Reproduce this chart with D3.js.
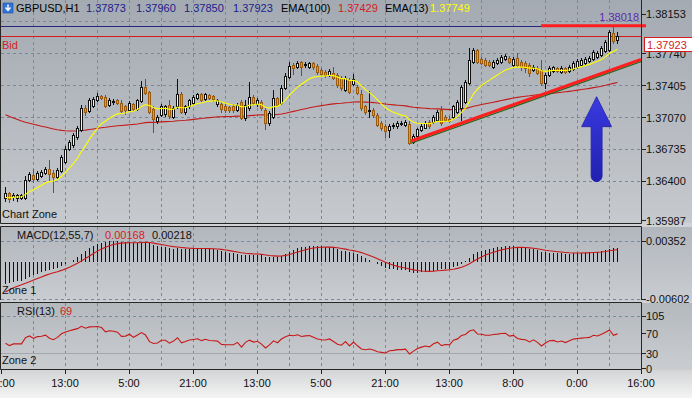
<!DOCTYPE html>
<html><head><meta charset="utf-8">
<script src="https://cdn.jsdelivr.net/npm/d3@7"></script>
<style>
html,body{margin:0;padding:0;background:#d0d2d4;overflow:hidden;}
svg{display:block;}
text{font-family:"Liberation Sans",Arial,sans-serif;font-size:11px;}
</style></head><body>
<svg id="c" width="692" height="398"></svg>
<script>
// ---------------- DATA ----------------
const symbol = "GBPUSD,H1";
const open = [1.3622,1.3627,1.3623,1.3622,1.3622,1.3622,1.3641,1.3646,1.3642,1.3645,1.3648,1.3653,1.3648,1.3644,1.3650,1.3660,1.3674,1.3678,1.3686,1.3693,
1.3716,1.3713,1.3718,1.3725,1.3729,1.3728,1.3720,1.3723,1.3725,1.3722,1.3718,1.3714,1.3721,1.3715,1.3724,1.3738,1.3733,1.3715,1.3703,1.3709,
1.3710,1.3720,1.3707,1.3718,1.3731,1.3712,1.3718,1.3722,1.3727,1.3731,1.3726,1.3730,1.3729,1.3721,1.3721,1.3718,1.3717,1.3718,1.3714,1.3723,
1.3706,1.3716,1.3728,1.3721,1.3723,1.3714,1.3701,1.3707,1.3727,1.3722,1.3737,1.3749,1.3761,1.3759,1.3765,1.3761,1.3759,1.3764,1.3760,1.3756,
1.3754,1.3751,1.3753,1.3751,1.3748,1.3735,1.3746,1.3742,1.3738,1.3731,1.3718,1.3713,1.3714,1.3709,1.3701,1.3698,1.3693,1.3698,1.3698,1.3700,
1.3699,1.3700,1.3681,1.3687,1.3693,1.3696,1.3702,1.3702,1.3704,1.3714,1.3707,1.3705,1.3707,1.3712,1.3716,1.3723,1.3743,1.3765,1.3777,1.3768,
1.3767,1.3765,1.3759,1.3764,1.3765,1.3768,1.3769,1.3761,1.3769,1.3765,1.3764,1.3761,1.3756,1.3758,1.3756,1.3743,1.3751,1.3755,1.3758,1.3754,
1.3758,1.3755,1.3757,1.3759,1.3761,1.3764,1.3766,1.3768,1.3770,1.3772,1.3776,1.3777,1.3795,1.37873];
const high = [1.3634,1.3628,1.3627,1.3626,1.3626,1.3645,1.3649,1.3653,1.3650,1.3651,1.3655,1.3662,1.3651,1.3654,1.3667,1.3677,1.3683,1.3690,1.3698,1.3720,
1.3720,1.3727,1.3728,1.3732,1.3730,1.3730,1.3727,1.3726,1.3726,1.3725,1.3720,1.3724,1.3722,1.3726,1.3745,1.3747,1.3734,1.3718,1.3709,1.3721,
1.3720,1.3725,1.3718,1.3747,1.3733,1.3720,1.3726,1.3730,1.3732,1.3732,1.3732,1.3731,1.3730,1.3726,1.3723,1.3721,1.3718,1.3721,1.3722,1.3725,
1.3725,1.3744,1.3730,1.3727,1.3725,1.3716,1.3713,1.3735,1.3728,1.3740,1.3753,1.3765,1.3764,1.3766,1.3766,1.3765,1.3765,1.3765,1.3762,1.3758,
1.3756,1.3757,1.3759,1.3753,1.3750,1.3750,1.3748,1.3752,1.3740,1.3735,1.3720,1.3734,1.3716,1.3711,1.3703,1.3700,1.3700,1.3701,1.3703,1.3703,
1.3704,1.3703,1.3689,1.3696,1.3700,1.3703,1.3704,1.3709,1.3714,1.3718,1.3709,1.3708,1.3720,1.3725,1.3740,1.3746,1.3779,1.3779,1.3778,1.3770,
1.3769,1.3767,1.3767,1.3769,1.3772,1.3773,1.3771,1.3770,1.3774,1.3767,1.3766,1.3764,1.3761,1.3760,1.3767,1.3753,1.3760,1.3760,1.3759,1.3760,
1.3759,1.3761,1.3766,1.3768,1.3769,1.3770,1.3771,1.3777,1.3776,1.3781,1.3788,1.3798,1.38018,1.37960];
const low = [1.3619,1.3618,1.3620,1.3619,1.3621,1.3621,1.3640,1.3639,1.3641,1.3644,1.3647,1.3641,1.3628,1.3643,1.3649,1.3659,1.3672,1.3676,1.3684,1.3692,
1.3709,1.3712,1.3717,1.3724,1.3726,1.3717,1.3718,1.3721,1.3721,1.3712,1.3710,1.3713,1.3714,1.3714,1.3723,1.3731,1.3711,1.3691,1.3701,1.3708,
1.3708,1.3706,1.3706,1.3716,1.3711,1.3710,1.3716,1.3721,1.3726,1.3724,1.3725,1.3726,1.3724,1.3718,1.3712,1.3712,1.3712,1.3712,1.3713,1.3705,
1.3704,1.3714,1.3721,1.3718,1.3714,1.3694,1.3699,1.3706,1.3718,1.3721,1.3736,1.3748,1.3752,1.3758,1.3751,1.3759,1.3758,1.3757,1.3752,1.3750,
1.3749,1.3750,1.3747,1.3738,1.3735,1.3734,1.3732,1.3740,1.3731,1.3714,1.3710,1.3707,1.3707,1.3698,1.3693,1.3686,1.3686,1.3696,1.3696,1.3699,
1.3698,1.3679,1.3680,1.3685,1.3692,1.3695,1.3695,1.3701,1.3703,1.3699,1.3703,1.3702,1.3706,1.3711,1.3704,1.3722,1.3742,1.3764,1.3764,1.3762,
1.3760,1.3760,1.3758,1.3762,1.3764,1.3767,1.3764,1.3760,1.3760,1.3756,1.3754,1.3750,1.3755,1.3752,1.3740,1.3737,1.3750,1.3754,1.3754,1.3753,
1.3753,1.3754,1.3756,1.3758,1.3760,1.3762,1.3765,1.3767,1.3769,1.3771,1.3775,1.3776,1.3784,1.37850];
const close = [1.3627,1.3621,1.3625,1.3625,1.3625,1.3641,1.3647,1.3642,1.3648,1.3649,1.3653,1.3647,1.3644,1.3651,1.3665,1.3674,1.3681,1.3688,1.3695,1.3716,
1.3712,1.3725,1.3726,1.3729,1.3727,1.3718,1.3725,1.3724,1.3722,1.3713,1.3714,1.3722,1.3715,1.3725,1.3738,1.3732,1.3712,1.3705,1.3707,1.3718,
1.3718,1.3708,1.3716,1.3731,1.3712,1.3718,1.3725,1.3728,1.3731,1.3725,1.3731,1.3727,1.3726,1.3725,1.3715,1.3714,1.3714,1.3714,1.3720,1.3706,
1.3720,1.3728,1.3722,1.3725,1.3716,1.3701,1.3711,1.3727,1.3720,1.3737,1.3750,1.3760,1.3758,1.3764,1.3759,1.3762,1.3764,1.3759,1.3754,1.3752,
1.3751,1.3755,1.3748,1.3740,1.3737,1.3748,1.3733,1.3747,1.3732,1.3716,1.3712,1.3714,1.3709,1.3699,1.3696,1.3692,1.3698,1.3699,1.3701,1.3701,
1.3702,1.3680,1.3687,1.3694,1.3698,1.3701,1.3698,1.3707,1.3712,1.3701,1.3704,1.3703,1.3718,1.3723,1.3738,1.3744,1.3767,1.3777,1.3765,1.3764,
1.3761,1.3761,1.3765,1.3767,1.3770,1.3771,1.3765,1.3768,1.3761,1.3759,1.3758,1.3753,1.3759,1.3753,1.3743,1.3751,1.3758,1.3759,1.3755,1.3758,
1.3754,1.3759,1.3764,1.3766,1.3767,1.3768,1.3769,1.3775,1.3774,1.3779,1.3786,1.3796,1.3787,1.37923];

const priceTicks = [1.38153,1.37740,1.37405,1.37070,1.36735,1.36400,1.35987];
const priceGrid  = [1.38075,1.37740,1.37405,1.37070,1.36735,1.36400];
const timeLabels = ["21:00","13:00","5:00","21:00","13:00","5:00","21:00","13:00","8:00","0:00","16:00"];
const timeLabelBar = [-1,15,31,47,63,79,95,111,127,143,159];
const macdTicks = [0.00352,-0.00602];
const rsiTicks = [105,70,30,0];
const rsiDashed = [105];
const rsiLevel = [30];

// indicator seeds (values before the first visible bar)
const ema100Seed = 1.3711, ema13Seed = 1.3622;
const macdFastSeed = 1.3624, macdSlowSeed = 1.3661, macdSignalSeed = -0.0054;
const rsiPrevClose = 1.3622, rsiGainSeed = 0.00022, rsiLossSeed = 0.00026;

// header values
const hdrOHLC = ["1.37873","1.37960","1.37850","1.37923"];
const hdrEma100 = "1.37429", hdrEma13 = "1.37749";
const macdHdr = ["0.00168","0.00218"];
const rsiHdr = "69";
const bidPrice = 1.37923, highPrice = 1.38018;

// drawn objects (bar index / price)
const trendLine = {i0:101.5, p0:1.36819, i1:159, p1:1.37673};
const resistLine = {i0:134, p0:1.38026, i1:160, p1:1.38026};
const arrowObj = {i:147.9, tip:1.37283, base:1.36393};

// ---------------- INDICATORS ----------------
function ema(vals, period, seed){ const k = 2/(period+1); let e = seed; return vals.map(v => (e = e + k*(v-e))); }
const ema100 = ema(close,100,ema100Seed);
const ema13 = ema(close,13,ema13Seed);
const eF = ema(close,12,macdFastSeed), eS = ema(close,55,macdSlowSeed);
const macd = eF.map((v,i)=>v-eS[i]);
const signal = ema(macd,7,macdSignalSeed);
let ag = rsiGainSeed, al = rsiLossSeed, pc = rsiPrevClose;
const rsi = close.map(c=>{ const d=c-pc; pc=c; ag=(ag*12+Math.max(d,0))/13; al=(al*12+Math.max(-d,0))/13; return 100-100/(1+ag/al); });

// ---------------- LAYOUT ----------------
const W=692, H=398, PR=641;
const x = d3.scaleLinear().domain([-1,159]).range([1,641]);
const y = d3.scaleLinear().domain([1.35987,1.38153]).range([220.4,13.6]);
const ym = d3.scaleLinear().domain([-0.00602,0.00352]).range([298.6,240.7]);
const yr = d3.scaleLinear().domain([0,105]).range([368.3,315.9]);
const px = i => Math.round(x(i));

const svg = d3.select("#c");
const defs = svg.append("defs");
function grad(id,c1,c2){ const g=defs.append("linearGradient").attr("id",id).attr("x1",0).attr("y1",0).attr("x2",0).attr("y2",1);
  g.append("stop").attr("offset",0).attr("stop-color",c1); g.append("stop").attr("offset",1).attr("stop-color",c2); }
grad("gMain","#a4aab2","#c6c9cd");
grad("gMacd","#b2b7bd","#c9ccd0");
grad("gRsi","#b4b9be","#cacdd0");
grad("gBot","#d2d4d6","#f4f4f4");
grad("gArrow","#3a3ae0","#2020b0");
defs.append("clipPath").attr("id","clipMain").append("rect").attr("x",1).attr("y",0).attr("width",640).attr("height",223);
defs.append("clipPath").attr("id","clipMacd").append("rect").attr("x",1).attr("y",227).attr("width",640).attr("height",73);
defs.append("clipPath").attr("id","clipRsi").append("rect").attr("x",1).attr("y",303).attr("width",640).attr("height",66);

svg.append("rect").attr("width",W).attr("height",H).attr("fill","#d0d2d4");
svg.append("rect").attr("x",0).attr("y",0).attr("width",W).attr("height",223).attr("fill","url(#gMain)");
svg.append("rect").attr("x",0).attr("y",227).attr("width",W).attr("height",74).attr("fill","url(#gMacd)");
svg.append("rect").attr("x",0).attr("y",303).attr("width",W).attr("height",67).attr("fill","url(#gRsi)");
svg.append("rect").attr("x",0).attr("y",370).attr("width",W).attr("height",28).attr("fill","url(#gBot)");

const gridColor="#7a889e", dash="3,3";
const vIdx = d3.range(7,159,8);
[[0,223],[227,299],[303,369]].forEach(([t,b])=>{
  svg.append("g").selectAll("line").data(vIdx).join("line")
    .attr("x1",d=>px(d)+0.5).attr("x2",d=>px(d)+0.5).attr("y1",t).attr("y2",b)
    .attr("stroke",gridColor).attr("stroke-dasharray",dash).attr("stroke-width",1);
});
svg.append("g").selectAll("line").data(priceGrid).join("line")
  .attr("x1",1).attr("x2",PR).attr("y1",d=>Math.round(y(d))+0.5).attr("y2",d=>Math.round(y(d))+0.5)
  .attr("stroke",gridColor).attr("stroke-dasharray",dash);
svg.append("g").selectAll("line").data(macdTicks).join("line")
  .attr("x1",1).attr("x2",PR).attr("y1",d=>Math.round(ym(d))+0.5).attr("y2",d=>Math.round(ym(d))+0.5)
  .attr("stroke",gridColor).attr("stroke-dasharray",dash);
svg.append("g").selectAll("line").data(rsiDashed).join("line")
  .attr("x1",1).attr("x2",PR).attr("y1",d=>Math.round(yr(d))+0.5).attr("y2",d=>Math.round(yr(d))+0.5)
  .attr("stroke",gridColor).attr("stroke-dasharray",dash);
svg.append("g").selectAll("line").data(rsiLevel).join("line")
  .attr("x1",1).attr("x2",PR).attr("y1",d=>Math.round(yr(d))+0.5).attr("y2",d=>Math.round(yr(d))+0.5)
  .attr("stroke","#a3a8ae");

// ---------------- MAIN PANEL ----------------
const gm = svg.append("g").attr("clip-path","url(#clipMain)");
gm.append("line").attr("x1",1).attr("x2",PR).attr("y1",Math.round(y(highPrice))+0.5).attr("y2",Math.round(y(highPrice))+0.5).attr("stroke","#26267a");
gm.append("line").attr("x1",1).attr("x2",PR).attr("y1",Math.round(y(bidPrice))+0.5).attr("y2",Math.round(y(bidPrice))+0.5).attr("stroke","#d41c1c");

const lineGen = (arr, ys) => d3.line().x((d,i)=>px(i)+0.5).y(d=>ys(d))(arr);
gm.append("path").attr("d",lineGen(ema100,y)).attr("fill","none").attr("stroke","#c41a1a").attr("stroke-width",1.1);

const idx = d3.range(close.length);
const cg = gm.append("g");
cg.selectAll("line.w").data(idx).join("line").attr("class","w")
  .attr("x1",i=>px(i)+0.5).attr("x2",i=>px(i)+0.5)
  .attr("y1",i=>Math.round(y(high[i]))).attr("y2",i=>Math.round(y(low[i]))+1)
  .attr("stroke",i=>close[i]<open[i]?"#8c4c08":"#101010");
cg.selectAll("rect.b").data(idx).join("rect").attr("class","b")
  .attr("x",i=>px(i)-0.5).attr("width",2)
  .attr("y",i=>Math.round(y(Math.max(open[i],close[i])))+0.5)
  .attr("height",i=>Math.max(0,Math.round(y(Math.min(open[i],close[i])))-Math.round(y(Math.max(open[i],close[i])))))
  .attr("fill",i=>close[i]<open[i]?"#e49c1e":"#eef5fa")
  .attr("stroke",i=>close[i]<open[i]?"#9c5c0c":"#101010").attr("stroke-width",1);

gm.append("path").attr("d",lineGen(ema13,y)).attr("fill","none").attr("stroke","#ffff00").attr("stroke-width",1.1);

gm.append("line").attr("x1",x(trendLine.i0)).attr("y1",y(trendLine.p0)+2.2).attr("x2",x(trendLine.i1)).attr("y2",y(trendLine.p1)+2.2)
  .attr("stroke","#1f6a1f").attr("stroke-width",1.3);
gm.append("line").attr("x1",x(trendLine.i0)).attr("y1",y(trendLine.p0)).attr("x2",x(trendLine.i1)).attr("y2",y(trendLine.p1))
  .attr("stroke","#ff1e1e").attr("stroke-width",3);
svg.append("line").attr("x1",x(resistLine.i0)).attr("y1",y(resistLine.p0)).attr("x2",x(resistLine.i1)+1).attr("y2",y(resistLine.p1))
  .attr("stroke","#ff1e1e").attr("stroke-width",3);

{
  const ax = x(arrowObj.i), tip = y(arrowObj.tip), base = y(arrowObj.base);
  const hw = 15, hh = 30, sw = 5.5;
  const p = d3.path();
  p.moveTo(ax,tip); p.lineTo(ax+hw,tip+hh); p.lineTo(ax+sw,tip+hh); p.lineTo(ax+sw,base-sw);
  p.arc(ax,base-sw,sw,0,Math.PI,false); p.lineTo(ax-sw,tip+hh); p.lineTo(ax-hw,tip+hh); p.closePath();
  gm.append("path").attr("d",p.toString()).attr("fill","url(#gArrow)").attr("stroke","#2222a8").attr("stroke-width",0.8);
}

// ---------------- MACD PANEL ----------------
const gma = svg.append("g").attr("clip-path","url(#clipMacd)");
gma.selectAll("line").data(idx).join("line")
  .attr("x1",i=>px(i)+0.5).attr("x2",i=>px(i)+0.5)
  .attr("y1",Math.round(ym(0))).attr("y2",i=>Math.round(ym(macd[i])))
  .attr("stroke","#111").attr("stroke-width",1);
gma.append("path").attr("d",lineGen(signal,ym)).attr("fill","none").attr("stroke","#c81818").attr("stroke-width",1.1);

// ---------------- RSI PANEL ----------------
const gr = svg.append("g").attr("clip-path","url(#clipRsi)");
gr.append("path").attr("d",lineGen(rsi,yr)).attr("fill","none").attr("stroke","#c81818").attr("stroke-width",1.1);

// ---------------- BORDERS ----------------
const bc="#262626";
const border = svg.append("g").attr("stroke",bc).attr("fill","none");
border.append("path").attr("d",`M0.5,0 V223.5 H${PR+0.5} V0`);
border.append("path").attr("d",`M0.5,300 V226.5 H${PR+0.5} V300`);
border.append("path").attr("d",`M0.5,302.5 H${PR+0.5} V369.5 H0.5 Z`);

// ---------------- AXES TEXT ----------------
const axisG = svg.append("g");
function rightLabels(vals, ys, fmt){
  axisG.append("g").selectAll("line").data(vals).join("line")
    .attr("x1",PR+0.5).attr("x2",PR+5).attr("y1",d=>Math.round(ys(d))+0.5).attr("y2",d=>Math.round(ys(d))+0.5).attr("stroke","#222");
  axisG.append("g").selectAll("text").data(vals).join("text")
    .attr("x",646).attr("y",d=>ys(d)+4.5).attr("fill","#111").text(fmt);
}
rightLabels(priceTicks, y, d=>d.toFixed(5));
rightLabels(macdTicks, ym, d=>d.toFixed(5));
rightLabels(rsiTicks, yr, d=>String(d));

svg.append("rect").attr("x",644.5).attr("y",37.5).attr("width",50).attr("height",14).attr("fill","#ffffff").attr("stroke","#d41c1c");
svg.append("text").attr("x",647).attr("y",48.5).attr("fill","#d41c1c").text(bidPrice.toFixed(5));
svg.append("text").attr("x",639).attr("y",21).attr("text-anchor","end").attr("fill","#5a2ab0").text(highPrice.toFixed(5));

// time axis
svg.append("g").selectAll("line").data(timeLabelBar).join("line")
  .attr("x1",d=>px(d)+0.5).attr("x2",d=>px(d)+0.5).attr("y1",369.5).attr("y2",374).attr("stroke","#222");
svg.append("g").selectAll("text").data(timeLabels).join("text")
  .attr("x",(d,k)=>x(timeLabelBar[k])).attr("y",387).attr("text-anchor","middle").attr("fill","#111").text(d=>d);

// header
const hdr = svg.append("g");
hdr.append("rect").attr("x",3).attr("y",3).attr("width",10).attr("height",10).attr("fill","#2f72d8").attr("stroke","#1c4fa0").attr("stroke-width",0.6);
hdr.append("path").attr("d","M8,4.5 V10 M5.5,7.5 L8,10.5 L10.5,7.5").attr("stroke","#fff").attr("stroke-width",1.4).attr("fill","none");
const hItems = [
  {t:symbol,c:"#000",x:16},
  {t:hdrOHLC[0],c:"#1c1c8c",x:86},{t:hdrOHLC[1],c:"#1c1c8c",x:136},{t:hdrOHLC[2],c:"#1c1c8c",x:184},{t:hdrOHLC[3],c:"#1c1c8c",x:233},
  {t:"EMA(100)",c:"#000",x:281},{t:hdrEma100,c:"#d41c1c",x:338},
  {t:"EMA(13)",c:"#000",x:385},{t:hdrEma13,c:"#ffff00",x:430}
];
hdr.selectAll("text").data(hItems).join("text").attr("x",d=>d.x).attr("y",12).attr("fill",d=>d.c).text(d=>d.t);

svg.append("text").attr("x",2).attr("y",49).attr("fill","#d41c1c").text("Bid");
svg.append("text").attr("x",2).attr("y",218).attr("fill","#111").text("Chart Zone");
svg.append("text").attr("x",2).attr("y",294).attr("fill","#111").text("Zone 1");
svg.append("text").attr("x",2).attr("y",364).attr("fill","#111").text("Zone 2");
const mItems=[{t:"MACD(12,55,7)",c:"#111",x:17},{t:macdHdr[0],c:"#d41c1c",x:105},{t:macdHdr[1],c:"#111",x:152}];
svg.append("g").selectAll("text").data(mItems).join("text").attr("x",d=>d.x).attr("y",239).attr("fill",d=>d.c).text(d=>d.t);
const rItems=[{t:"RSI(13)",c:"#111",x:17},{t:rsiHdr,c:"#d41c1c",x:60}];
svg.append("g").selectAll("text").data(rItems).join("text").attr("x",d=>d.x).attr("y",315).attr("fill",d=>d.c).text(d=>d.t);
</script>
</body></html>
